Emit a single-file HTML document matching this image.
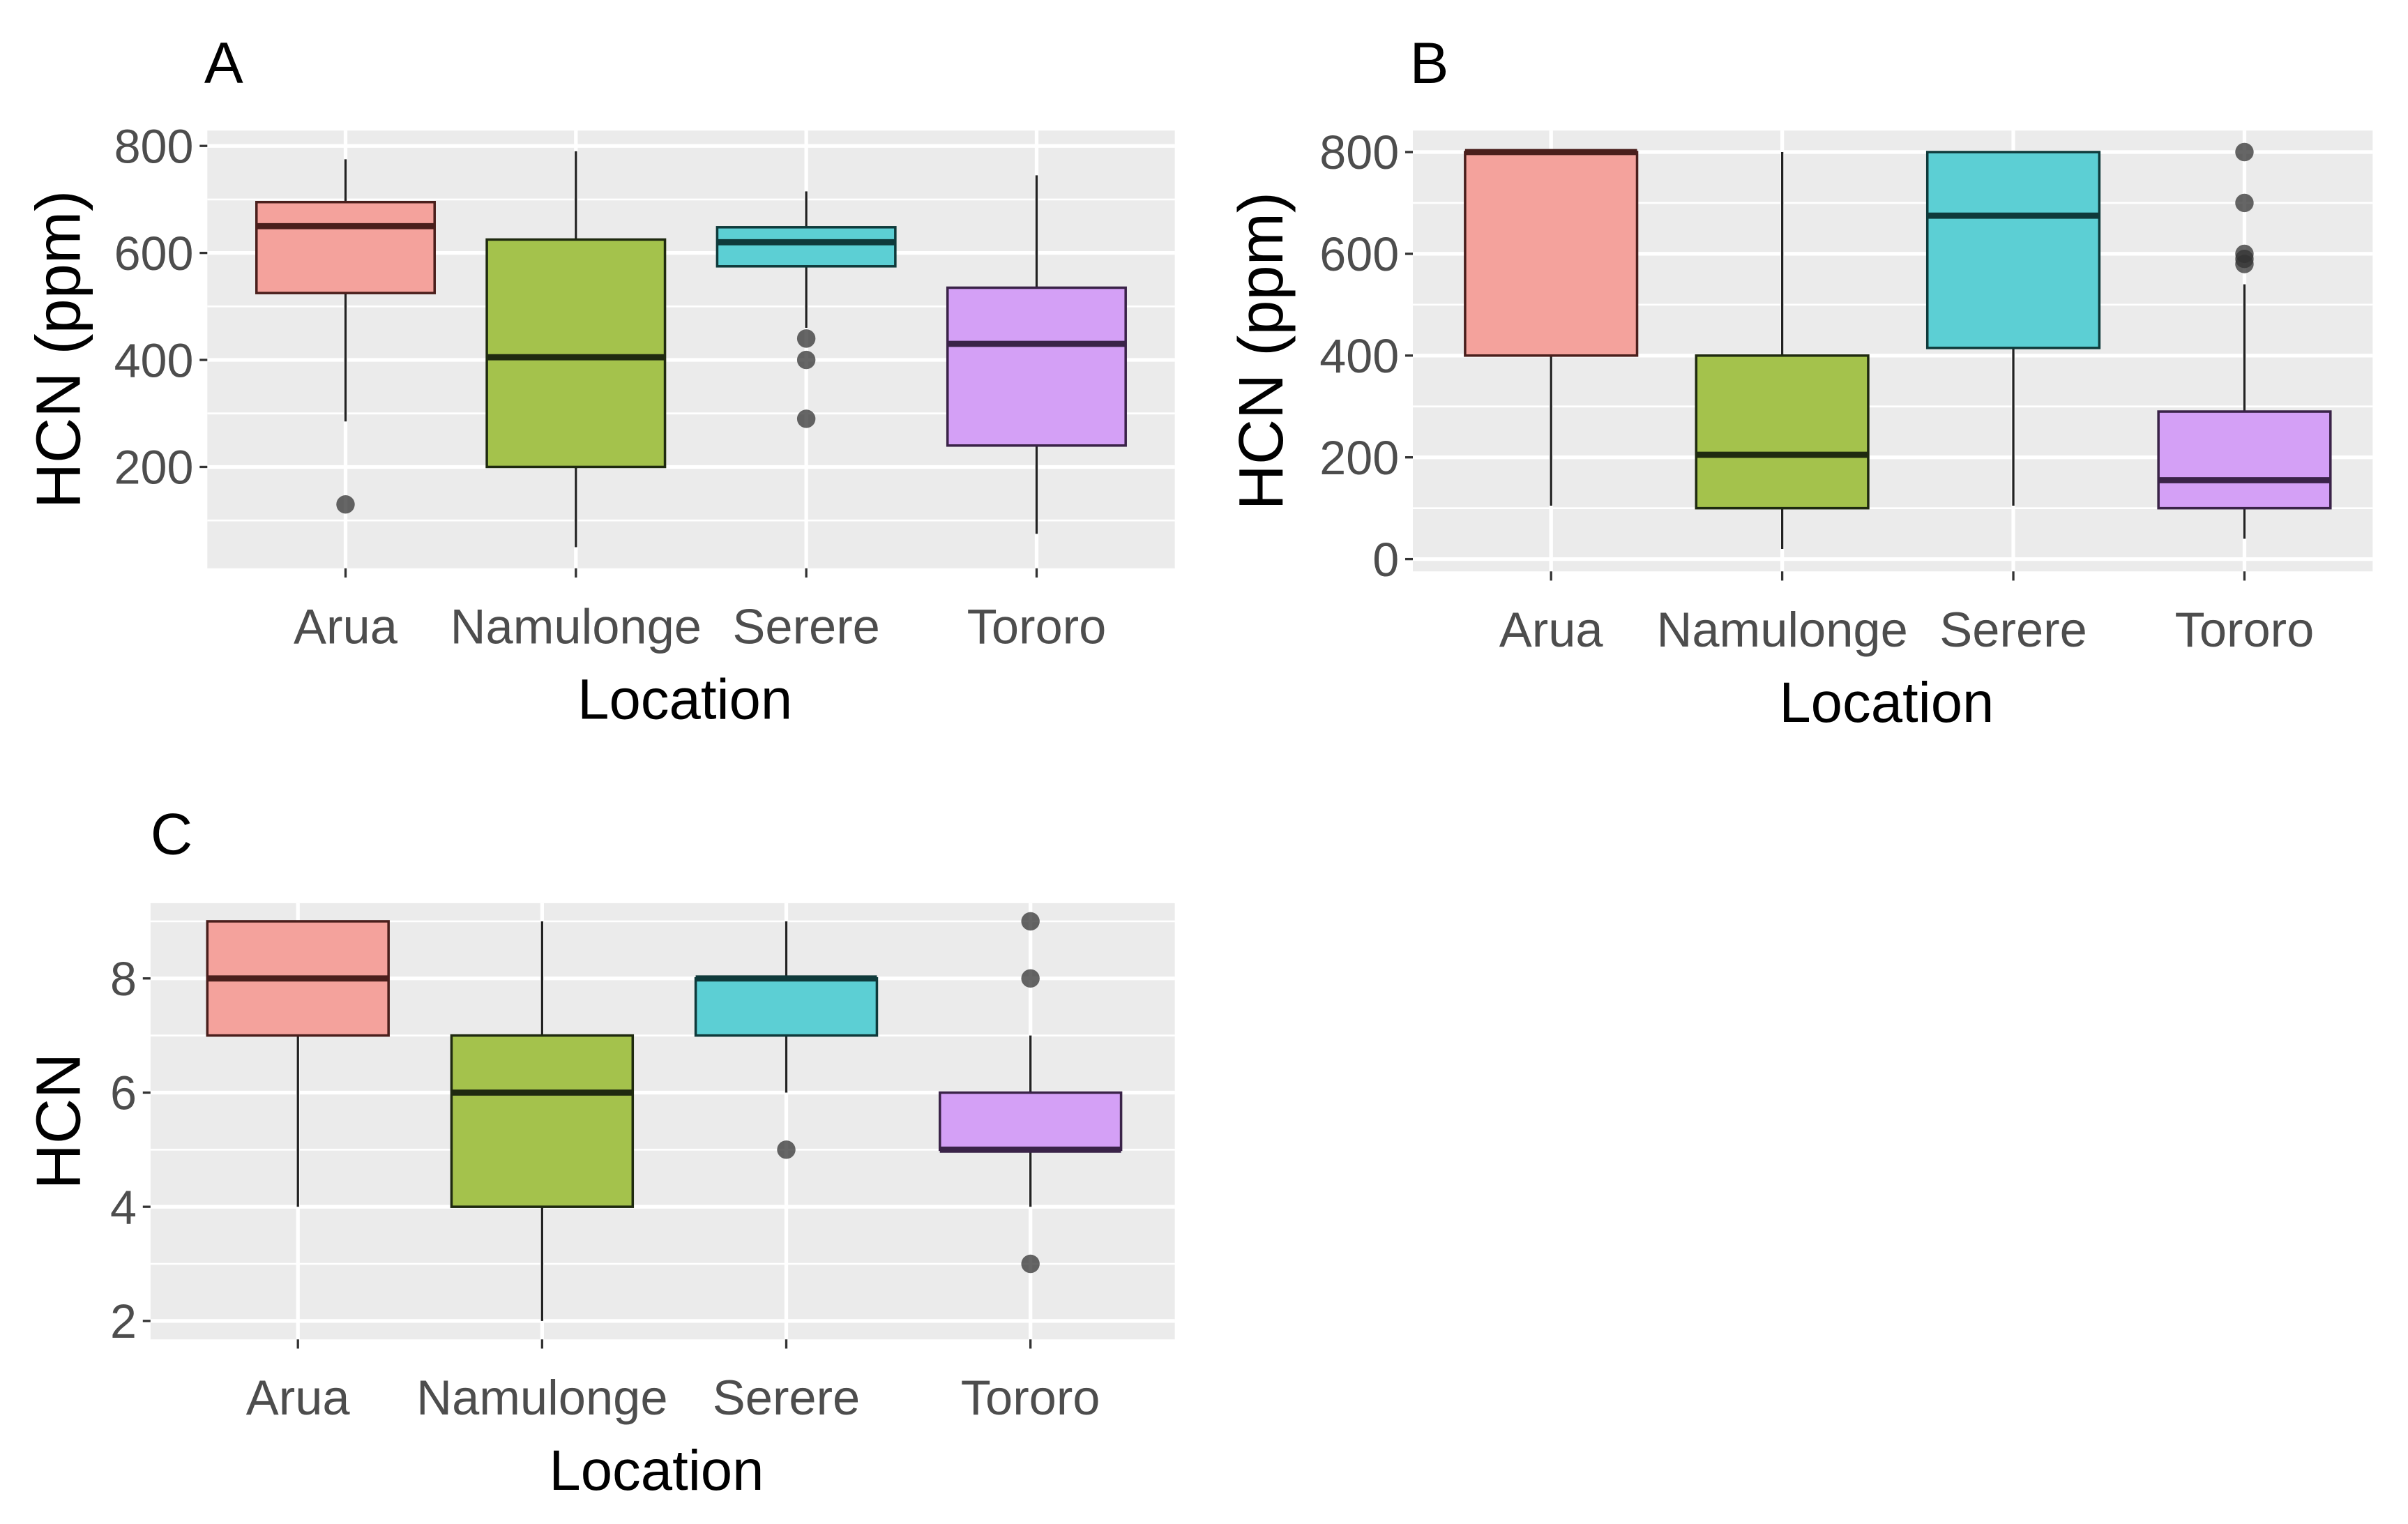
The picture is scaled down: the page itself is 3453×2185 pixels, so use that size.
<!DOCTYPE html>
<html><head><meta charset="utf-8"><style>
html,body{margin:0;padding:0;background:#fff;}
svg{display:block;font-family:"Liberation Sans",sans-serif;}
</style></head><body>
<svg id="fig" xmlns="http://www.w3.org/2000/svg" width="3453" height="2185" viewBox="0 0 1568 992.2" preserveAspectRatio="none"></svg>
<script>
const categories = ["Arua","Namulonge","Serere","Tororo"];
const fills = ["#f4a29c","#a4c24c","#5ccfd4","#d4a0f6"];
const strokes = ["#4a1f1c","#1f2a10","#0f3a3b","#3a2348"];
// Panel A: [lower whisker, Q1, median, Q3, upper whisker]
const aStats = [[285,525,650,695,775],[50,200,405,625,790],[460,575,620,648,715],[75,240,430,535,745]];
const aOutliers = [[130],[],[440,400,290],[]];
const aTicks = [200,400,600,800];
// Panel B
const bStats = [[105,400,800,800,800],[20,100,205,400,800],[105,415,675,800,800],[40,100,155,290,540]];
const bOutliers = [[],[],[],[800,700,600,590,580]];
const bTicks = [0,200,400,600,800];
// Panel C
const cStats = [[4,7,8,9,9],[2,4,6,7,9],[6,7,8,8,9],[4,5,5,6,7]];
const cOutliers = [[],[],[5],[9,8,3]];
const cTicks = [2,4,6,8];

const NS="http://www.w3.org/2000/svg";
const svg=document.getElementById('fig');
function mk(tag,attrs,parent){const e=document.createElementNS(NS,tag);for(const k in attrs)e.setAttribute(k,attrs[k]);(parent||svg).appendChild(e);return e;}

function panel(cfg){
  const g=mk('g',{});
  
  
  const y=v=>cfg.y0+(v-cfg.v0)*(cfg.y1-cfg.y0)/(cfg.v1-cfg.v0);
  const x=i=>cfg.cx0+i*cfg.dx;
  const bg=mk('rect',{x:cfg.left,y:cfg.top,width:cfg.right-cfg.left,height:cfg.bottom-cfg.top,fill:'#ebebeb'},g);
  
  
  const step=cfg.ticks[1]-cfg.ticks[0];
  const minorStart=cfg.ticks[0]-step/2;
  for(let v=minorStart; v<=cfg.ticks[cfg.ticks.length-1]+step/2; v+=step){
    const yy=y(v); if(yy<cfg.top||yy>cfg.bottom) continue;
    mk('line',{x1:cfg.left,x2:cfg.right,y1:yy,y2:yy,stroke:'#fff','stroke-width':1.2},g);
  }
  cfg.ticks.forEach(v=>{
    const yy=y(v);
    mk('line',{x1:cfg.left,x2:cfg.right,y1:yy,y2:yy,stroke:'#fff','stroke-width':2.4},g);
    mk('line',{x1:cfg.left-5,x2:cfg.left,y1:yy,y2:yy,stroke:'#333','stroke-width':1.5},g);
    const t=mk('text',{x:cfg.left-9,y:yy+11,'text-anchor':'end','font-size':31,fill:'#4d4d4d'},g);
    t.textContent=v;
    
    
  });
  categories.forEach((c,i)=>{
    const xx=x(i);
    mk('line',{x1:xx,x2:xx,y1:cfg.top,y2:cfg.bottom,stroke:'#fff','stroke-width':2.4},g);
    mk('line',{x1:xx,x2:xx,y1:cfg.bottom,y2:cfg.bottom+6,stroke:'#333','stroke-width':1.5},g);
    const t=mk('text',{x:xx,y:cfg.bottom+49,'text-anchor':'middle','font-size':32,fill:'#4d4d4d'},g);
    t.textContent=c;
    
    
  });
  cfg.stats.forEach((s,i)=>{
    const xx=x(i), hw=cfg.bw/2;
    const bx=mk('g',{},g);
    
    
    mk('line',{x1:xx,x2:xx,y1:y(s[0]),y2:y(s[1]),stroke:'#222','stroke-width':1.5},bx);
    mk('line',{x1:xx,x2:xx,y1:y(s[3]),y2:y(s[4]),stroke:'#222','stroke-width':1.5},bx);
    mk('rect',{x:xx-hw,y:y(s[3]),width:cfg.bw,height:Math.max(y(s[1])-y(s[3]),0.5),fill:fills[i],stroke:strokes[i],'stroke-width':1.6},bx);
    mk('line',{x1:xx-hw,x2:xx+hw,y1:y(s[2]),y2:y(s[2]),stroke:strokes[i],'stroke-width':4},bx);
    cfg.out[i].forEach(v=>{
      const p=mk('circle',{cx:xx,cy:y(v),r:6,fill:'#333','fill-opacity':0.75},bx);
      
      
    });
  });
  const lt=mk('text',{x:cfg.letterX,y:cfg.letterY,'font-size':38,fill:'#000'},g);
  lt.textContent=cfg.letter;
  
  
  const xt=mk('text',{x:(cfg.left+cfg.right)/2-4,y:cfg.bottom+98,'text-anchor':'middle','font-size':37,fill:'#000'},g);
  xt.textContent='Location';
  
  
  const cy=(cfg.top+cfg.bottom)/2;
  const yt=mk('text',{x:0,y:0,'text-anchor':'middle','font-size':41,fill:'#000',transform:`translate(${cfg.ytX},${cy}) rotate(-90)`},g);
  yt.textContent=cfg.ytitle;
  
  
}

panel({name:'panel-a',letter:'A',letterX:133,letterY:54,left:135,right:765,top:85,bottom:370,
  v0:800,y0:95,v1:200,y1:304,cx0:225,dx:150,bw:116,ticks:aTicks,stats:aStats,out:aOutliers,ytitle:'HCN (ppm)',ytX:52});
panel({name:'panel-b',letter:'B',letterX:918,letterY:54,left:920,right:1545,top:85,bottom:372,
  v0:800,y0:99,v1:0,y1:364,cx0:1010,dx:150.5,bw:112,ticks:bTicks,stats:bStats,out:bOutliers,ytitle:'HCN (ppm)',ytX:835});
panel({name:'panel-c',letter:'C',letterX:98,letterY:556,left:98,right:765,top:588,bottom:872,
  v0:8,y0:637,v1:2,y1:860,cx0:194,dx:159,bw:118,ticks:cTicks,stats:cStats,out:cOutliers,ytitle:'HCN',ytX:52});
</script>
</body></html>
